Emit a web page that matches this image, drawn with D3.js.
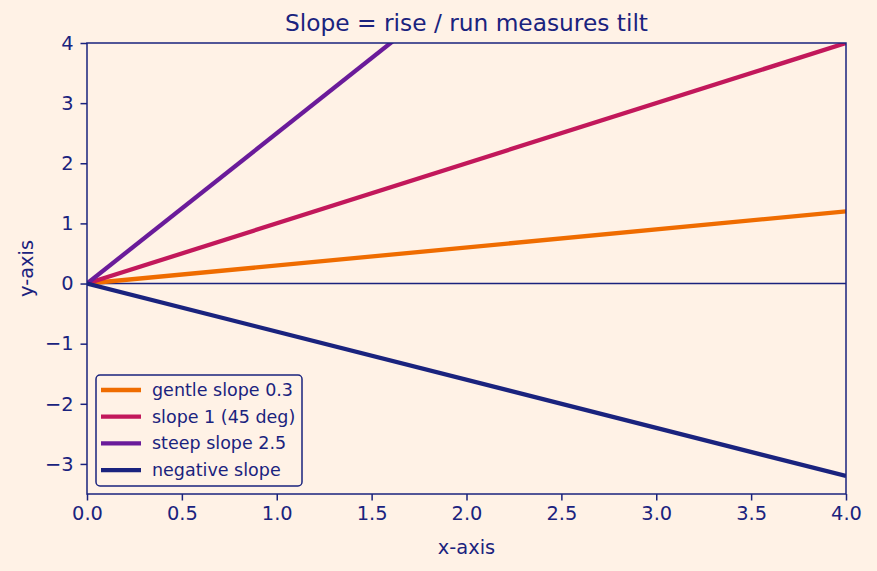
<!DOCTYPE html>
<html>
<head>
<meta charset="utf-8">
<script src="https://cdn.jsdelivr.net/npm/d3@7"></script>
<style>
  body { margin: 0; background: #fff2e6; }
  svg { display: block; font-family: "DejaVu Sans", sans-serif; }
</style>
</head>
<body>
<svg id="chart" width="877" height="571"></svg>
<script>
// data
const seriesNames = ["gentle slope 0.3", "slope 1 (45 deg)", "steep slope 2.5", "negative slope"];
const slopes = [0.3, 1, 2.5, -0.8];
const colors = ["#ef6c00", "#c2185b", "#6a1b9a", "#1a237e"];
const xTicks = [0, 0.5, 1, 1.5, 2, 2.5, 3, 3.5, 4];
const yTicks = [-3, -2, -1, 0, 1, 2, 3, 4];

const ink = "#1a237e";
const margin = {left: 87, right: 31, top: 43, bottom: 77};
const W = 877, H = 571;

const svg = d3.select("#chart");
svg.append("rect").attr("width", W).attr("height", H).attr("fill", "#fff2e6");

const x = d3.scaleLinear().domain([0, 4]).range([margin.left, W - margin.right]);
const y = d3.scaleLinear().domain([-3.5, 4]).range([H - margin.bottom, margin.top]);

svg.append("clipPath").attr("id", "clip")
  .append("rect")
  .attr("x", x(0)).attr("y", y(4))
  .attr("width", x(4) - x(0)).attr("height", y(-3.5) - y(4));

// zero line
svg.append("line")
  .attr("x1", x(0)).attr("x2", x(4))
  .attr("y1", y(0)).attr("y2", y(0))
  .attr("stroke", ink).attr("stroke-width", 1.5);

// lines
const line = d3.line().x(d => x(d[0])).y(d => y(d[1]));
const g = svg.append("g").attr("clip-path", "url(#clip)");
slopes.forEach((s, i) => {
  g.append("path")
    .datum([[0, 0], [4, 4 * s]])
    .attr("d", line)
    .attr("fill", "none")
    .attr("stroke", colors[i])
    .attr("stroke-width", 4.3);
});

// frame
svg.append("rect")
  .attr("x", x(0)).attr("y", y(4))
  .attr("width", x(4) - x(0)).attr("height", y(-3.5) - y(4))
  .attr("fill", "none").attr("stroke", ink).attr("stroke-width", 1.5);

// axes
const xAxis = svg.append("g")
  .attr("transform", "translate(0," + y(-3.5) + ")")
  .call(d3.axisBottom(x).tickValues(xTicks).tickFormat(d3.format(".1f")).tickSize(6.5).tickPadding(6));
const yAxis = svg.append("g")
  .attr("transform", "translate(" + x(0) + ",0)")
  .call(d3.axisLeft(y).tickValues(yTicks).tickFormat(d => d < 0 ? "\u2212" + Math.abs(d) : d).tickSize(6.5).tickPadding(7));
[xAxis, yAxis].forEach(a => {
  a.select(".domain").remove();
  a.selectAll("line").attr("stroke", ink).attr("stroke-width", 1.5);
  a.selectAll("text").attr("fill", ink).style("font-size", "19.4px").style("font-family", "DejaVu Sans");
});

// titles
svg.append("text")
  .attr("x", (x(0) + x(4)) / 2).attr("y", 31)
  .attr("text-anchor", "middle").attr("fill", ink)
  .style("font-size", "23.3px")
  .text("Slope = rise / run measures tilt");
svg.append("text")
  .attr("x", (x(0) + x(4)) / 2).attr("y", 554)
  .attr("text-anchor", "middle").attr("fill", ink)
  .style("font-size", "19.4px")
  .text("x-axis");
svg.append("text")
  .attr("transform", "translate(33," + ((y(4) + y(-3.5)) / 2) + ") rotate(-90)")
  .attr("text-anchor", "middle").attr("fill", ink)
  .style("font-size", "19.4px")
  .text("y-axis");

// legend
const lg = svg.append("g").attr("transform", "translate(96,375)");
lg.append("rect")
  .attr("width", 206).attr("height", 111).attr("rx", 4)
  .attr("fill", "#fff2e6").attr("stroke", ink).attr("stroke-width", 1.5);
seriesNames.forEach((n, i) => {
  const yy = 15 + i * 26.7;
  lg.append("line")
    .attr("x1", 5).attr("x2", 45).attr("y1", yy).attr("y2", yy)
    .attr("stroke", colors[i]).attr("stroke-width", 4.3);
  lg.append("text")
    .attr("x", 56).attr("y", yy + 6)
    .attr("fill", ink).style("font-size", "17.5px")
    .text(n);
});
</script>
</body>
</html>
